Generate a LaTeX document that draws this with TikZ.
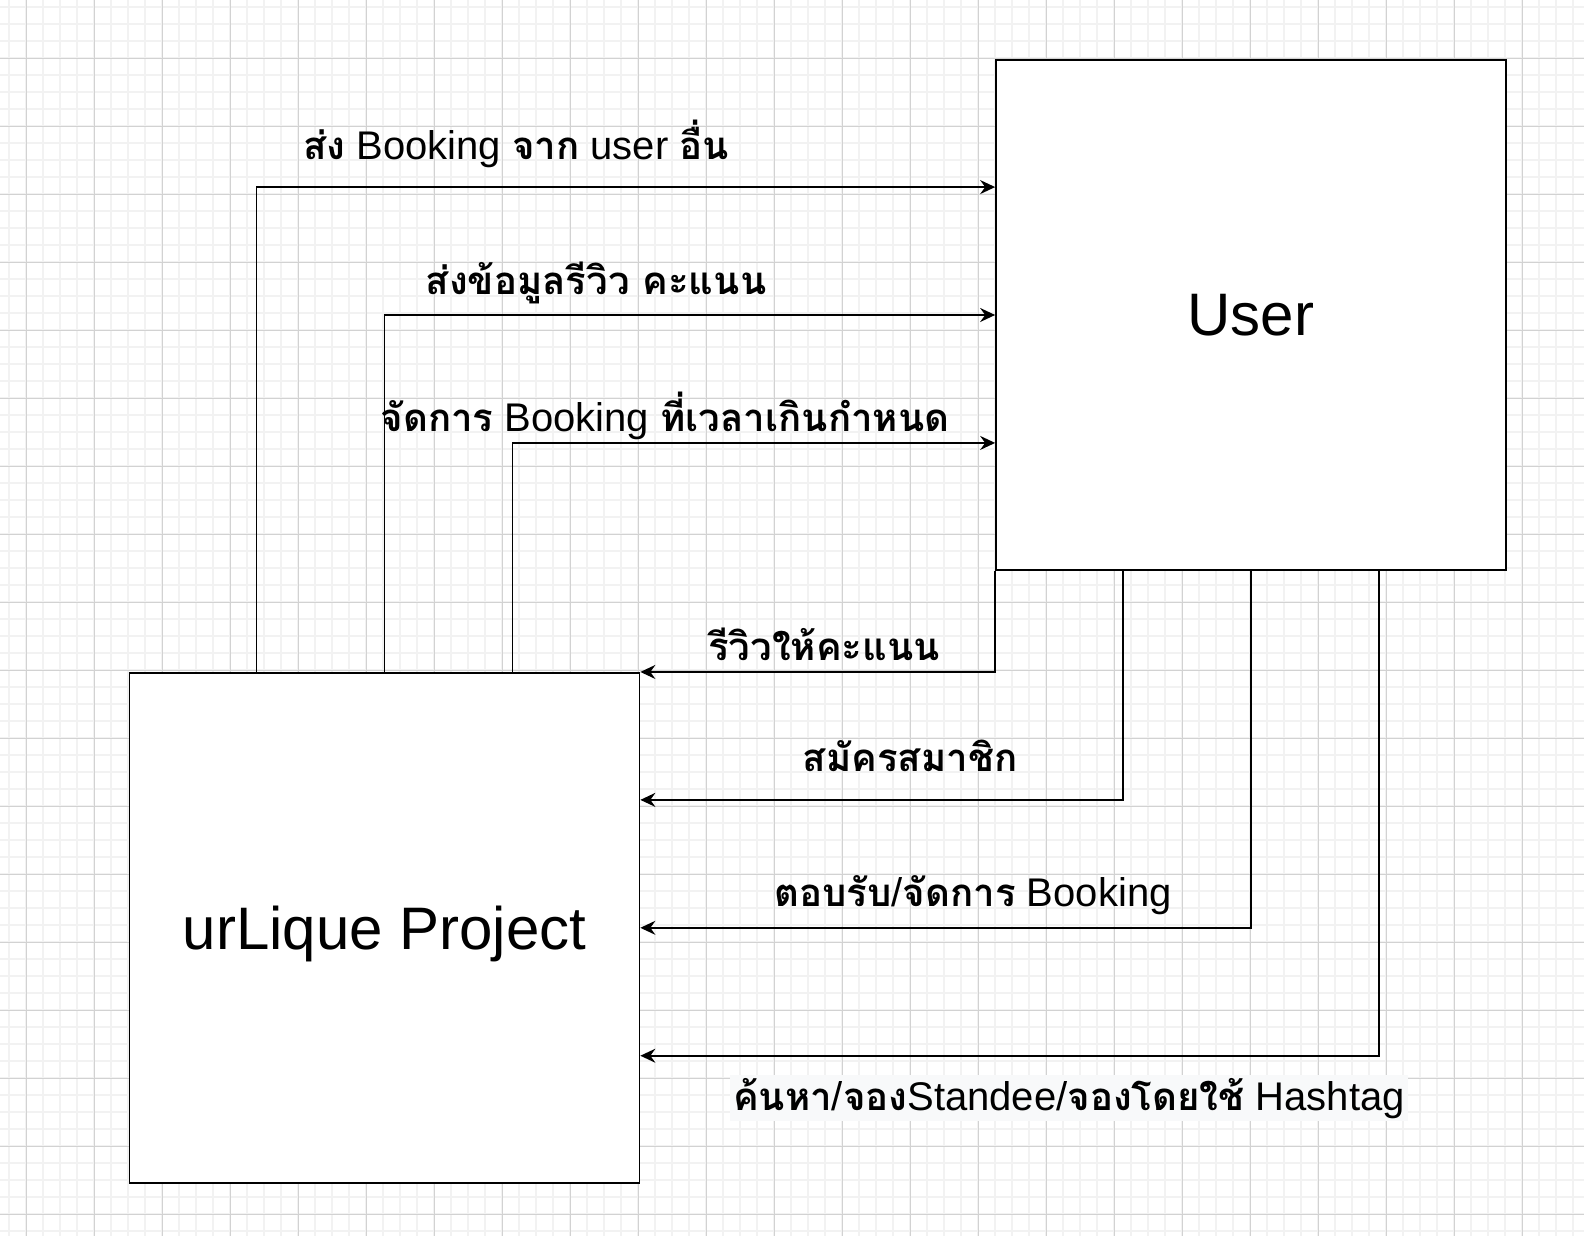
\documentclass[tikz,border=0pt]{standalone}
\usepackage{fontspec}
\setmainfont{Liberation Sans}
\newfontfamily\thaifont[Script=Thai,Scale=0.96]{Loma}
\newcommand\tha[1]{{\thaifont\bfseries #1}}
\usetikzlibrary{arrows.meta,calc}
\definecolor{minorgrid}{HTML}{F2F2F2}
\definecolor{majorgrid}{HTML}{D2D2D2}
\definecolor{lblback}{HTML}{F8F9FA}

\begin{document}
\begin{tikzpicture}[x=1pt,y=-1pt,
	box/.style={draw,line width=1.7pt,minimum width=510pt,minimum height=510pt,inner sep=0pt,font=\fontsize{60}{72}\selectfont},
	flow/.style={line width=1.7pt,-{Stealth[length=15pt,width=14pt,inset=5pt]}},
	lbl/.style={anchor=base,inner sep=0pt,font=\fontsize{40}{48}\selectfont}]
	\useasboundingbox (0,0) rectangle (1584,1236);
	\fill [white] (0,0) rectangle (1584,1236);
	% background grid
	\begin{scope}
		\clip (0,0) rectangle (1584,1236);
		\foreach \i in {0,...,93} \draw [minorgrid,line width=2pt] ({9.3+17*\i},0) -- ({9.3+17*\i},1236);
		\foreach \i in {0,...,72} \draw [minorgrid,line width=2pt] (0,{7.3+17*\i}) -- (1584,{7.3+17*\i});
		\foreach \i in {0,...,23} \draw [majorgrid,line width=1pt] ({26.3+68*\i},0) -- ({26.3+68*\i},1236);
		\foreach \i in {-1,...,17} \draw [majorgrid,line width=1pt] (0,{58.3+68*\i}) -- (1584,{58.3+68*\i});
	\end{scope}
	% entities
	\node [box,fill=white] (user) at (1251,315) {User};
	\node [box,fill=white,text depth=0pt] (proj) at (384.5,927.8) {urLique Project};
	% flows to user
	\draw [flow] ($(proj.north west)!.25!(proj.north east)$) |- ($(user.north west)!.25!(user.south west)$);
	\draw [flow] (proj.north) |- (user.west);
	\draw [flow] ($(proj.north west)!.75!(proj.north east)$) |- ($(user.north west)!.75!(user.south west)$);
	% flows to project
	\draw [flow] (user.south west) |- (proj.north east);
	\draw [flow] ($(user.south west)!.25!(user.south east)$) |- ($(proj.north east)!.25!(proj.south east)$);
	\draw [flow] (user.south) |- (proj.east);
	\draw [flow] ($(user.south west)!.75!(user.south east)$) |- ($(proj.north east)!.75!(proj.south east)$);
	% labels
	\node [lbl] (sendbook) at (516,159.5) {\tha{ส่ง} Booking \tha{จาก} user \tha{อื่น}};
	\node [lbl] (sendrev) at (596,294.3) {\tha{ส่งข้อมูลรีวิว คะแนน}};
	\node [lbl] (manlate) at (665,431.7) {\tha{จัดการ} Booking \tha{ที่เวลาเกินกำหนด}};
	\node [lbl] (review) at (824,660) {\tha{รีวิวให้คะแนน}};
	\node [lbl] (signup) at (910,771.7) {\tha{สมัครสมาชิก}};
	\node [lbl] (accept) at (973,906.7) {\tha{ตอบรับ}/\tha{จัดการ} Booking};
	\node [lbl,fill=lblback,inner sep=3pt] (search) at (1069,1110) {\tha{ค้นหา}/\tha{จอง}Standee/\tha{จองโดยใช้} Hashtag};
\end{tikzpicture}
\end{document}
